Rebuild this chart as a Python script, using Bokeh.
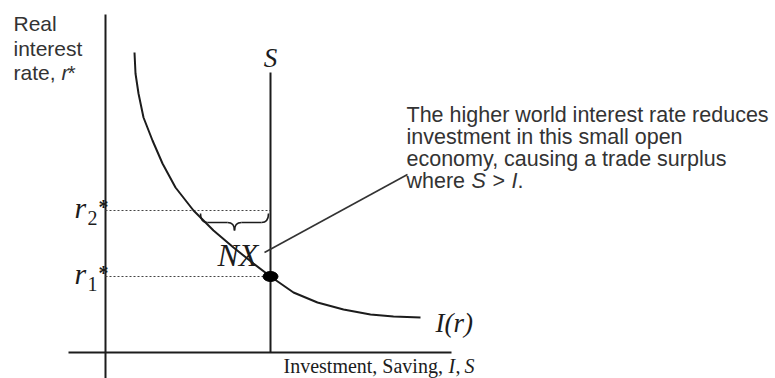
from bokeh.plotting import figure
from bokeh.models import Range1d, Label
from bokeh.embed import file_html
from bokeh.resources import INLINE

# Investment schedule I(r): (quantity, real interest rate)
I_x = [29, 30, 33, 38, 47, 57, 70, 88, 108, 128, 148, 165, 188, 212, 238, 265, 288, 315]
I_y = [300, 279, 259, 235, 212, 189, 165, 142, 122, 105, 89, 76, 60, 50, 43, 38, 36, 35]

# Fixed saving and the two world interest rates
S_level = 165
r1 = 76
r2 = 142

# Axis extents
x_axis_from, x_axis_to = -37, 346
y_axis_from, y_axis_to = -26, 338

note_lines = [
    "The higher world interest rate reduces",
    "investment in this small open",
    "economy, causing a trade surplus",
]

INK = "#1c1c1c"
GREY_TEXT = "#333333"
SANS = "Liberation Sans"
SERIF = "Liberation Serif"

p = figure(width=775, height=378, x_range=Range1d(-105, 670), y_range=Range1d(-26, 352),
           x_axis_type=None, y_axis_type=None, toolbar_location=None,
           output_backend="svg", min_border=0)
p.grid.visible = False
p.outline_line_color = None
p.background_fill_color = "white"
p.border_fill_color = "white"

# axes
p.segment(x0=[0, x_axis_from], y0=[y_axis_from, 0], x1=[0, x_axis_to], y1=[y_axis_to, 0],
          line_color=INK, line_width=2)

# world interest rates (dotted) up to the saving line
p.segment(x0=[0, 0], y0=[r1, r2], x1=[S_level, S_level], y1=[r1, r2],
          line_color="#444444", line_width=1.2, line_dash="2 2")

# saving, vertical
p.segment(x0=[S_level], y0=[0], x1=[S_level], y1=[280], line_color=INK, line_width=2)

# investment curve
p.line(I_x, I_y, line_color=INK, line_width=2)

# equilibrium at r1
p.ellipse(x=[S_level], y=[r1], width=15, height=10, fill_color="black", line_color="black")

# brace marking NX = S - I(r2), below the r2 line
i_at_r2 = I_x[I_y.index(r2)]
bl, br = i_at_r2 + 7, S_level - 2
xm = (bl + br) / 2
top, mid, tip = r2 - 3, r2 - 12, r2 - 20
p.quadratic(x0=[bl, br, xm - 7, xm + 7], y0=[top, top, mid, mid],
            x1=[bl + 7, br - 7, xm, xm], y1=[mid, mid, tip, tip],
            cx=[bl, br, xm, xm], cy=[mid, mid, mid, mid],
            line_color=INK, line_width=1.6)
p.segment(x0=[bl + 7, xm + 7], y0=[mid, mid], x1=[xm - 7, br - 7], y1=[mid, mid],
          line_color=INK, line_width=1.6)

# pointer from NX to the note
p.segment(x0=[159], y0=[100], x1=[302], y1=[178], line_color="#333333", line_width=1.6)


def label(x, y, text, size, font=SERIF, style="normal", align="left", color=INK):
    # y is the baseline; the svg text is anchored at its descent, so lift it by that much
    p.add_layout(Label(x=x, y=y + 0.36 * size, text=text, text_font=font,
                       text_font_size=f"{size}px", text_font_style=style,
                       text_align=align, text_baseline="alphabetic", text_color=color))


# y-axis title
label(-92, 321, "Real", 21, SANS, color=GREY_TEXT)
label(-92, 296, "interest", 21, SANS, color=GREY_TEXT)
label(-92, 272, "rate,", 21, SANS, color=GREY_TEXT)
label(-44, 272, "r", 21, SANS, "italic", color=GREY_TEXT)
label(-38, 272, "*", 21, SANS, color=GREY_TEXT)

# r labels on the vertical axis
for lvl, sub in ((r2, "2"), (r1, "1")):
    label(-31, lvl - 8, "r", 30, style="italic")
    label(-18, lvl - 15, sub, 20)
    label(-2, lvl - 4, "*", 20, style="bold", align="center")

# curve labels
label(S_level, 285, "S", 27, style="italic", align="center")
label(330, 20, "I(r)", 27, style="italic")
label(112, 86, "NX", 32, style="italic")

# x-axis title
label(178, -21, "Investment, Saving,", 20)
label(343, -21, "I", 20, style="italic")
label(350, -21, ",", 20)
label(359, -21, "S", 20, style="italic")

# note
for k, line in enumerate(note_lines):
    label(301, 230 - 22 * k, line, 21.5, SANS, color=GREY_TEXT)
label(301, 164, "where", 21.5, SANS, color=GREY_TEXT)
label(366, 164, "S", 21.5, SANS, "italic", color=GREY_TEXT)
label(387, 164, ">", 21.5, SANS, color=GREY_TEXT)
label(406, 164, "I", 21.5, SANS, "italic", color=GREY_TEXT)
label(412, 164, ".", 21.5, SANS, color=GREY_TEXT)

open("out.html", "w").write(file_html(p, INLINE))
